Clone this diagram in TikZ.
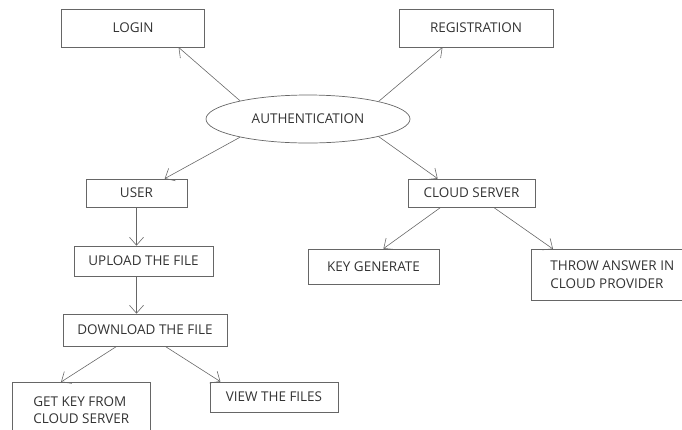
\documentclass[tikz,border=0pt]{standalone}
\usepackage{fontspec}
\setmainfont{Open Sans}
\usetikzlibrary{arrows.meta,shapes.geometric}
\newdimen\pxl \pxl=0.3mm

\begin{document}
\begin{tikzpicture}[x=0.3mm, y=-0.3mm,
    box/.style={draw=black!60, line width=0.6pt, inner sep=0pt, text=black!80,
      font=\fontsize{11.5}{15}\selectfont},
    oval/.style={box, ellipse},
    arr/.style={draw=black!60, line width=0.5pt, -{Straight Barb[length=6.8pt,width=12pt]}}]
    \useasboundingbox (0,0) rectangle (682,429);
    \clip (0,0) rectangle (682,429);

    \node[box, minimum width=143\pxl, minimum height=38\pxl] (login) at (133,28) {LOGIN};
    \node[box, minimum width=154\pxl, minimum height=38\pxl] (reg) at (476,28) {REGISTRATION};
    \node[oval, minimum width=204\pxl, minimum height=48\pxl] (auth) at (308,119) {AUTHENTICATION};

    \node[box, minimum width=101\pxl, minimum height=28\pxl] (user) at (136.5,193) {USER};
    \node[box, minimum width=127\pxl, minimum height=28\pxl] (cloud) at (471.5,193) {CLOUD SERVER};

    \node[box, minimum width=139\pxl, minimum height=30\pxl] (upload) at (143.5,261) {UPLOAD THE FILE};
    \node[box, minimum width=164\pxl, minimum height=32\pxl] (download) at (145,330) {DOWNLOAD THE FILE};
    \node[box, minimum width=131\pxl, minimum height=35\pxl] (keygen) at (373.5,266.5) {KEY GENERATE};
    \node[box, anchor=north west, align=left, inner xsep=19\pxl, minimum height=51\pxl] (throw)
      at (531,249) {THROW ANSWER IN\\CLOUD PROVIDER};

    \node[box, anchor=north west, align=left, minimum width=138\pxl, minimum height=56\pxl] (getkey)
      at (12,382) {GET KEY FROM\\CLOUD SERVER};
    \node[box, minimum width=128\pxl, minimum height=30\pxl] (view) at (274,397) {VIEW THE FILES};

    \draw[arr] (auth.165) -- (login.-23);
    \draw[arr] (auth.14) -- (reg.-150);
    \draw[arr] (auth.195) -- (user.27);
    \draw[arr] (auth.-14) -- (cloud.157);

    \draw[arr] (user.south) -- (user.south |- upload.north);
    \draw[arr] (user.south |- upload.south) -- (user.south |- download.north);

    \draw[arr] (cloud.-155) -- (keygen.61);
    \draw[arr] (cloud.-33) -- ([xshift=22\pxl]throw.north west);

    \draw[arr] (download.-150) -- ([xshift=49\pxl]getkey.north west);
    \draw[arr] (download.-39) -- (view.164);
\end{tikzpicture}
\end{document}
